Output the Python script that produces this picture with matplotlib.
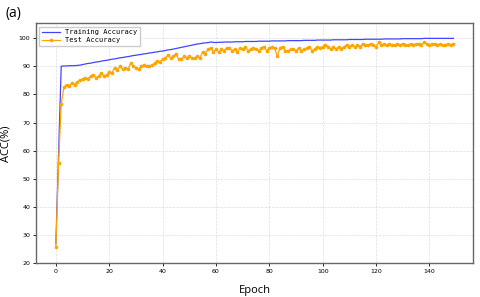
import numpy as np
from matplotlib import pyplot as plt

# datos
epochs = np.arange(150)

train_acc = [
    27.0, 58.0, 90.0, 90.1, 90.1, 90.2, 90.2, 90.2, 90.3, 90.4,
    90.6, 90.8, 91.0, 91.1, 91.3, 91.5, 91.6, 91.8, 92.0, 92.1,
    92.3, 92.5, 92.6, 92.8, 93.0, 93.1, 93.3, 93.4, 93.6, 93.8,
    93.9, 94.1, 94.2, 94.4, 94.5, 94.7, 94.8, 95.0, 95.1, 95.3,
    95.4, 95.6, 95.8, 95.9, 96.1, 96.3, 96.5, 96.7, 96.9, 97.1,
    97.3, 97.5, 97.7, 97.9, 98.0, 98.2, 98.3, 98.4, 98.6, 98.5,
    98.4, 98.5, 98.5, 98.6, 98.6, 98.6, 98.6, 98.7, 98.7, 98.7,
    98.7, 98.8, 98.8, 98.8, 98.8, 98.8, 98.9, 98.9, 98.9, 98.9,
    98.9, 99.0, 99.0, 99.0, 99.0, 99.0, 99.0, 99.1, 99.1, 99.1,
    99.1, 99.1, 99.1, 99.2, 99.2, 99.2, 99.2, 99.2, 99.3, 99.3,
    99.3, 99.3, 99.3, 99.3, 99.4, 99.4, 99.4, 99.4, 99.4, 99.4,
    99.5, 99.5, 99.5, 99.5, 99.5, 99.5, 99.6, 99.6, 99.6, 99.6,
    99.6, 99.6, 99.6, 99.7, 99.7, 99.7, 99.7, 99.7, 99.7, 99.7,
    99.8, 99.8, 99.8, 99.8, 99.8, 99.8, 99.8, 99.8, 99.9, 99.9,
    99.9, 99.9, 99.9, 99.9, 99.9, 99.9, 99.9, 99.9, 99.9, 99.9,
]

test_acc = [
    26.0, 55.5, 76.5, 82.5, 83.5, 83.0, 84.0, 83.5, 84.5, 85.0,
    85.5, 86.0, 85.5, 86.5, 87.0, 86.0, 86.5, 87.5, 86.5, 87.0,
    88.0, 87.5, 89.5, 88.5, 90.0, 89.0, 89.5, 89.0, 91.0, 90.0,
    89.5, 89.0, 90.0, 90.5, 90.0, 90.0, 90.5, 91.0, 92.0, 91.5,
    92.5, 93.0, 94.0, 93.0, 93.5, 94.5, 92.5, 92.5, 93.5, 93.0,
    93.5, 93.0, 93.0, 93.5, 93.0, 95.0, 94.5, 96.0, 96.5, 95.0,
    96.0, 95.0, 96.0, 95.5, 96.5, 96.5, 95.5, 96.0, 95.0, 96.5,
    96.0, 97.0, 95.5, 96.0, 96.5, 96.0, 95.5, 96.5, 97.0, 95.5,
    96.5, 97.0, 96.5, 93.5, 96.5, 97.0, 95.5, 95.5, 96.0, 96.0,
    95.5, 96.5, 95.5, 96.0, 96.5, 97.0, 95.5, 96.0, 97.0, 96.5,
    97.0, 97.5, 97.0, 96.0, 97.0, 96.0, 97.0, 96.0, 97.0, 97.5,
    97.0, 97.5, 97.0, 97.5, 97.0, 98.0, 97.5, 97.5, 98.0, 97.5,
    97.0, 98.5, 97.5, 98.0, 97.5, 98.0, 97.5, 97.5, 98.0, 97.5,
    98.0, 97.5, 97.5, 98.0, 97.5, 98.0, 98.0, 97.5, 98.5, 98.0,
    97.5, 98.0, 98.0, 97.5, 98.0, 97.5, 97.5, 98.0, 97.5, 98.0,
]

fig = plt.figure(figsize=(4.8, 2.97), dpi=100)
ax = fig.add_axes([0.075, 0.113, 0.911, 0.809])

ax.plot(epochs, train_acc, color='#4444ff', linewidth=0.9, label='Training Accuracy')
ax.plot(epochs, test_acc, color='orange', linewidth=0.9, marker='o', markersize=1.6,
        label='Test Accuracy')

ax.set_ylim(20, 105.3)
ax.set_yticks([20, 30, 40, 50, 60, 70, 80, 90, 100])
ax.set_xticks([0, 20, 40, 60, 80, 100, 120, 140])
ax.tick_params(labelsize=4.5, length=2, width=0.6, pad=2)
ax.grid(color='#dddddd', linestyle='--', linewidth=0.5)

for s in ax.spines.values():
    s.set_color('#666666')
    s.set_linewidth(1.0)

ax.set_xlabel('Epoch', fontsize=8, family='Open Sans')
ax.xaxis.set_label_coords(0.5, -0.09)
ax.set_ylabel('ACC(%)', fontsize=8, family='Open Sans')
ax.yaxis.set_label_coords(-0.057, 0.5)

ax.legend(loc='upper left', prop={'family': 'DejaVu Sans Mono', 'size': 5},
          handlelength=2.5, borderpad=0.4, labelspacing=0.3, fancybox=False,
          framealpha=1, edgecolor='#cccccc')

fig.text(0.012, 0.955, '(a)', fontsize=10, family='Open Sans', va='center')

plt.savefig('out.png', dpi=100)
